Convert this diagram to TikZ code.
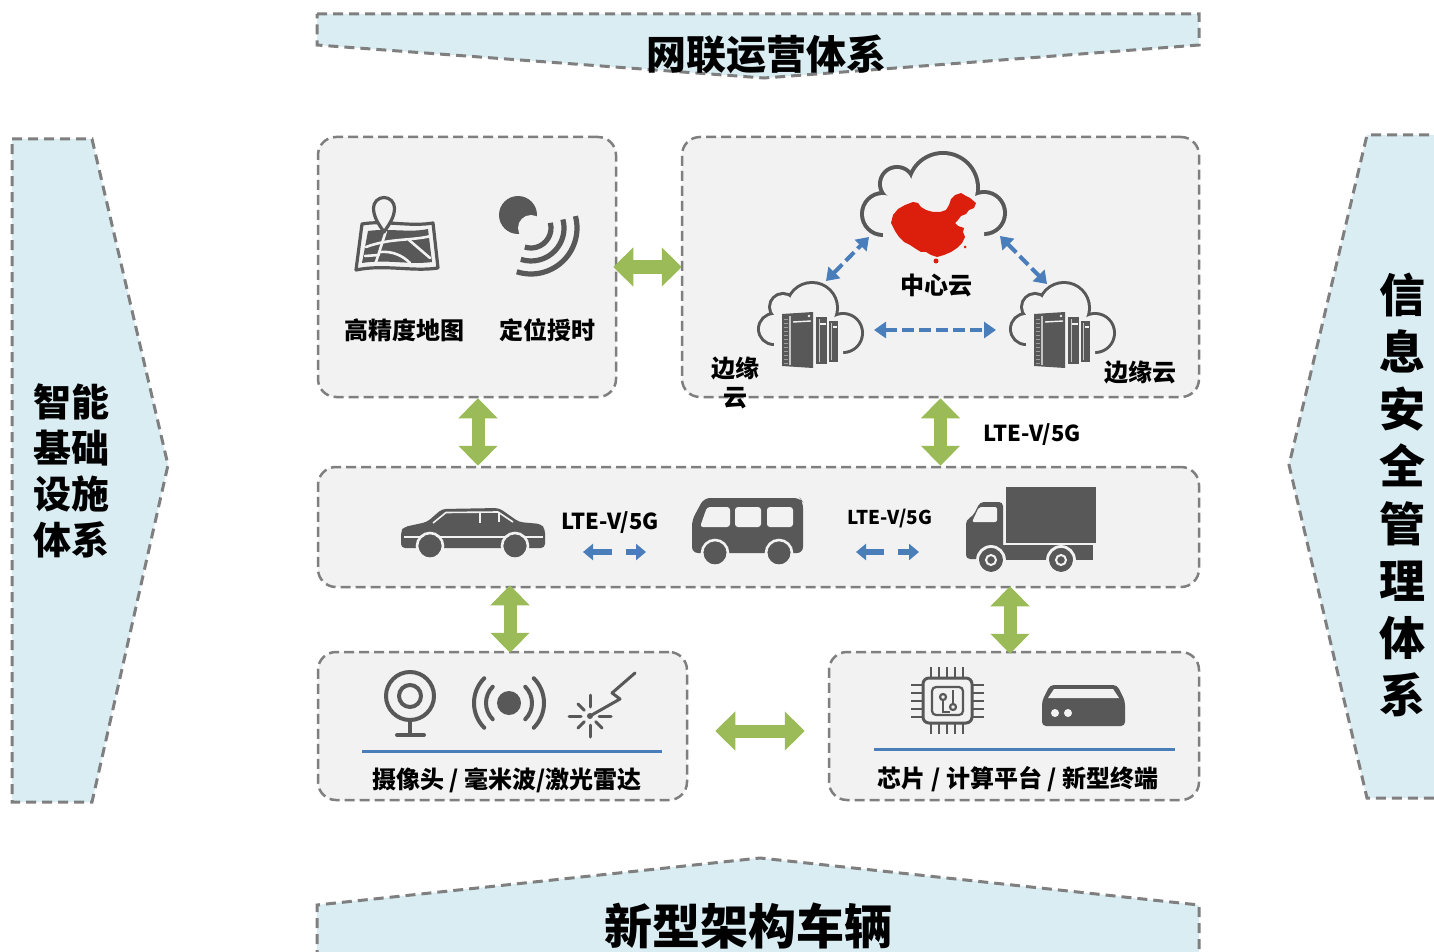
\documentclass[tikz,border=0pt]{standalone}
\usepackage{fontspec}
\setmainfont{Noto Sans CJK SC}
\usetikzlibrary{arrows.meta}

\definecolor{bannerfill}{HTML}{DAEDF3}
\definecolor{dashgray}{HTML}{7F7F7F}
\definecolor{boxfill}{HTML}{F2F2F2}
\definecolor{iconcol}{HTML}{585858}
\definecolor{linkgreen}{HTML}{9BBB59}
\definecolor{linkblue}{HTML}{4A7EBB}
\definecolor{mapred}{HTML}{DC1E0C}

\tikzset{
  % small cloud with a rack of servers, centred on the pic origin
  edgecloud/.pic={
    \foreach \cx/\cy/\r in {-36/4/14,-27/-18/12,2/-17/24,33/8/18}
      \draw[iconcol,line width=3pt] (\cx,\cy) circle[radius=\r];
    \foreach \cx/\cy/\r in {-36/4/14,-27/-18/12,2/-17/24,33/8/18}
      \fill[boxfill] (\cx,\cy) circle[radius=\r];
    \fill[boxfill] (-36,4) -- (-27,-18) -- (2,-17) -- (33,8) -- (33,58) -- (-36,58) -- cycle;
    % towers
    \fill[iconcol] (-28,-11) -- (3,-13) -- (3,43) -- (-28,41) -- cycle;
    \draw[boxfill!70!iconcol,line width=0.6pt] (-20,-9) -- (-20,40);
    \foreach \yy in {-6,-2,...,38} \draw[boxfill!45!iconcol,line width=0.3pt] (-26,\yy) -- (-22,\yy);
    \draw[boxfill,line width=0.7pt] (-17,-3) -- (1,-4);
    \fill[boxfill] (-1,-9) circle[radius=1.4];
    \fill[iconcol] (6,-8) rectangle (17,39);
    \draw[boxfill!70!iconcol,line width=0.5pt] (9,-6) -- (9,37);
    \draw[boxfill,line width=0.6pt] (10,-1) -- (16,-1);
    \fill[iconcol] (19,-4) rectangle (28,37);
    \draw[boxfill!70!iconcol,line width=0.5pt] (21.5,-2) -- (21.5,35);
    \draw[boxfill,line width=0.6pt] (22.5,2) -- (27,2);
  }
}

\begin{document}
\begin{tikzpicture}[x=0.5pt,y=-0.5pt,
  banner/.style={fill=bannerfill,draw=dashgray,line width=1.5pt,dash pattern=on 5pt off 3pt},
  bannerline/.style={draw=dashgray,line width=1.5pt,dash pattern=on 5pt off 3pt},
  panel/.style={draw=dashgray,fill=boxfill,line width=1.25pt,dash pattern=on 5pt off 2.5pt,
    rounded corners=9pt,inner sep=0pt},
  greenlink/.style={draw=linkgreen,line width=6.5pt,
    {Triangle[length=10pt,width=19pt]}-{Triangle[length=10pt,width=19pt]}},
  bluelink/.style={draw=linkblue,line width=2pt,dash pattern=on 6pt off 2.5pt,
    {Triangle[length=6pt,width=8pt]}-{Triangle[length=6pt,width=8pt]}},
  bluetip/.style={draw=linkblue,line width=3pt,-{Triangle[length=5pt,width=8pt]}},
  iconline/.style={draw=iconcol,line width=2pt,line cap=round,line join=round},
  label/.style={inner sep=0pt,font=\bfseries\fontsize{12pt}{14.5pt}\selectfont},
]
% canvas
\fill[white] (0,0) rectangle (1434,952);
\path[use as bounding box] (0,0) rectangle (1434,952);

% ---------- surrounding banners ----------
\path[banner] (317,14) -- (1199,14) -- (1199,45) -- (764,78) -- (317,45) -- cycle;
\path[banner] (12,139) -- (92,139) -- (168,465) -- (92,802) -- (12,802) -- cycle;
\fill[bannerfill] (1445,135) -- (1367,135) -- (1289,465) -- (1367,798) -- (1445,798) -- cycle;
\path[bannerline] (1445,135) -- (1367,135) -- (1289,465) -- (1367,798) -- (1445,798);
\fill[bannerfill] (317,960) -- (317,905) -- (760,858) -- (1199,905) -- (1199,960) -- cycle;
\path[bannerline] (317,960) -- (317,905) -- (760,858) -- (1199,905) -- (1199,960);

\node[inner sep=0pt,font=\bfseries\fontsize{20pt}{24pt}\selectfont] (t-top) at (766,54) {网联运营体系};
\node[inner sep=0pt,font=\bfseries\fontsize{24pt}{28pt}\selectfont] (t-bottom) at (748,926) {新型架构车辆};
\node[inner sep=0pt,align=center,font=\bfseries\fontsize{19pt}{23pt}\selectfont] (t-left) at (71,471)
  {智能\\基础\\设施\\体系};
\node[inner sep=0pt,align=center,font=\bfseries\fontsize{23pt}{28.6pt}\selectfont] (t-right) at (1402,495)
  {信\\息\\安\\全\\管\\理\\体\\系};

% ---------- panels ----------
\node[panel,minimum width=149pt,minimum height=130pt] (tl) at (467,267) {};
\node[panel,minimum width=258.5pt,minimum height=130pt] (tr) at (940.5,267) {};
\node[panel,minimum width=440.5pt,minimum height=60pt] (mid) at (758.5,527) {};
\node[panel,minimum width=184.5pt,minimum height=74pt] (bl) at (502.5,726) {};
\node[panel,minimum width=185pt,minimum height=74pt] (br) at (1014,726) {};

% ---------- green links between panels ----------
\draw[greenlink,shorten <=-2pt,shorten >=-0.5pt] (tl.east) -- (tr.west);
\draw[greenlink] ([xshift=5.5pt]tl.south) -- ([xshift=5.5pt]tl.south |- mid.north);
\draw[greenlink] (tr.south) -- (tr.south |- mid.north);
\draw[greenlink,shorten <=-1.5pt,shorten >=-1pt] ([xshift=3.75pt]mid.south -| bl.north) -- ([xshift=3.75pt]bl.north);
\draw[greenlink,shorten <=-1pt,shorten >=-1.5pt] ([xshift=-2pt]mid.south -| br.north) -- ([xshift=-2pt]br.north);
\draw[greenlink,shorten <=13.5pt,shorten >=11.5pt] ([yshift=-2.5pt]bl.east) -- ([yshift=-2.5pt]bl.east -| br.west);

% ---------- map icon ----------
\draw[iconline,line width=1.6pt] (362,224) .. controls (385,220) and (410,227) .. (433,223)
  -- (438,268) .. controls (412,272) and (385,264) .. (356,270) -- cycle;
\fill[iconcol] (368,231) .. controls (390,228) and (410,233) .. (428,229)
  -- (432,262) .. controls (410,265) and (385,259) .. (362,263) -- cycle;
\draw[boxfill,line width=1.3pt,line cap=round] (366,247) .. controls (390,238) and (410,241) .. (431,236);
\draw[boxfill,line width=1.3pt,line cap=round] (386,231) -- (376,262);
\draw[boxfill,line width=1.3pt,line cap=round] (380,252) .. controls (392,251) and (402,255) .. (410,263);
\draw[boxfill,line width=1.3pt,line cap=round] (409,240) -- (430,258);
\draw[boxfill,line width=1.3pt,line cap=round] (365,256) -- (379,255);
\draw[iconcol,line width=1.6pt,fill=boxfill,line join=round] (384,232) .. controls (378.5,224) and (373.5,217) .. (373.5,208)
  arc[start angle=180,end angle=360,radius=10.5] .. controls (394.5,217) and (389.5,224) .. (384,232) -- cycle;

% ---------- positioning icon ----------
\fill[iconcol] (518,215) circle[radius=19];
\fill[boxfill] (531,228) circle[radius=13];
\foreach \r in {20,33,46}
  \draw[iconcol,line width=2.6pt] (531,228) ++(-15:\r) arc[start angle=-15,end angle=108,radius=\r];

\node[label] (lbl-map) at (404,330) {高精度地图};
\node[label] (lbl-time) at (547,330) {定位授时};

% ---------- central cloud ----------
\foreach \cx/\cy/\r in {883/214/19,897/184/15,943/188/33,984/213/19}
  \draw[iconcol,line width=4pt] (\cx,\cy) circle[radius=\r];
\foreach \cx/\cy/\r in {883/214/19,897/184/15,943/188/33,984/213/19}
  \fill[boxfill] (\cx,\cy) circle[radius=\r];
\fill[boxfill] (883,214) -- (897,184) -- (943,188) -- (984,213) -- (984,252) -- (883,252) -- cycle;
% map outline of China
\fill[mapred] (893,215) -- (898,209) -- (905,205) -- (913,202) -- (918,203) -- (921,207) -- (926,210)
  -- (933,212) -- (940,212) -- (946,210) -- (949,205) -- (951,199) -- (955,195) -- (961,193)
  -- (966,196) -- (970,198) -- (976,203) -- (974,208) -- (969,210) -- (966,214) -- (961,216)
  -- (958,220) -- (955,223) -- (958,226) -- (964,228) -- (963,232) -- (965,237) -- (962,243)
  -- (957,248) -- (951,252) -- (944,255) -- (937,257) -- (931,255) -- (926,252) -- (921,252)
  -- (916,249) -- (910,245) -- (904,242) -- (899,237) -- (895,231) -- (891,223) -- cycle;
\fill[mapred] (936,261) circle[radius=2.5];
\fill[mapred] (965,247) circle[radius=1.5];

\pic at (810,325) {edgecloud};
\pic at (1062,325) {edgecloud};

\coordinate (ca) at (826,281); \coordinate (cb) at (869,237);
\coordinate (cc) at (1000,236); \coordinate (cd) at (1047,284);
\coordinate (ce) at (874,330); \coordinate (cf) at (996,330);
\draw[bluelink] (ca) -- (cb);
\draw[bluelink] (cc) -- (cd);
\draw[bluelink] (ce) -- (cf);

\node[label] (lbl-center) at (936,285) {中心云};
\node[label,align=center] (lbl-edge1) at (735,383) {边缘\\云};
\node[label] (lbl-edge2) at (1140,372) {边缘云};
\node[inner sep=0pt,font=\bfseries\fontsize{11pt}{13pt}\selectfont] (lte-1) at (1032,435) {LTE-V/5G};

% ---------- vehicles ----------
% car
\fill[iconcol,rounded corners=2pt] (401,548) -- (401,531) -- (404,527) -- (427,522) -- (442,509)
  -- (499,508) -- (519,522) -- (541,524) -- (545,529) -- (545,548) -- cycle;
\draw[boxfill,line width=0.8pt,line join=round] (433,523) -- (446,512.5) -- (498,512) -- (513,522);
\draw[boxfill,line width=0.8pt] (480,513) -- (480,523) (499,513) -- (499,522);
\draw[boxfill,line width=1pt] (404,537) -- (543,537);
\foreach \wx in {430,515} {
  \fill[iconcol] (\wx,546) circle[radius=11.5];
  \draw[boxfill,line width=1.3pt] (\wx,546) circle[radius=13];
}
% bus
\fill[iconcol,rounded corners=3pt] (704,498) -- (800,498) -- (803,502) -- (803,553) -- (692,553) -- (692,520) -- cycle;
\fill[boxfill,rounded corners=1.5pt] (707,507) -- (730,507) -- (730,527) -- (700,527) -- cycle;
\fill[boxfill,rounded corners=1.5pt] (735,507) rectangle (761,527);
\fill[boxfill,rounded corners=1.5pt] (767,507) rectangle (793,527);
\foreach \wx in {715,779} {
  \fill[iconcol] (\wx,553) circle[radius=11.5];
  \draw[boxfill,line width=1.3pt] (\wx,553) circle[radius=13];
}
% truck
\fill[iconcol] (1006,487) rectangle (1096,543);
\fill[iconcol,rounded corners=2pt] (1003,502) -- (980,502) -- (973,516) -- (966,520) -- (966,559) -- (1003,559) -- cycle;
\fill[boxfill,rounded corners=1pt] (979,507) -- (997,507) -- (997,522) -- (972,522) -- cycle;
\fill[iconcol] (1003,545) rectangle (1093,560);
\foreach \wx in {991,1061} {
  \fill[iconcol] (\wx,560) circle[radius=12];
  \draw[boxfill,line width=1.4pt] (\wx,560) circle[radius=13.5];
  \draw[boxfill,line width=1pt] (\wx,560) circle[radius=5];
}

\node[inner sep=0pt,font=\bfseries\fontsize{11pt}{13pt}\selectfont] (lte-2) at (610,523) {LTE-V/5G};
\node[inner sep=0pt,font=\bfseries\fontsize{9.5pt}{11pt}\selectfont] (lte-3) at (890,519) {LTE-V/5G};
\coordinate (m1) at (612,552); \coordinate (m2) at (583,552);
\coordinate (m3) at (626,552); \coordinate (m4) at (646,552);
\coordinate (m5) at (884,552); \coordinate (m6) at (856,552);
\coordinate (m7) at (898,552); \coordinate (m8) at (919,552);
\draw[bluetip] (m1) -- (m2);
\draw[bluetip] (m3) -- (m4);
\draw[bluetip] (m5) -- (m6);
\draw[bluetip] (m7) -- (m8);

% ---------- sensors ----------
\draw[iconline] (410,696) circle[radius=24];
\draw[iconline] (410,696) circle[radius=11];
\draw[iconline] (410,720) -- (410,734);
\draw[iconline] (397,735) -- (424,735);
\fill[iconcol] (509,703) circle[radius=12];
\foreach \r in {23,35} {
  \draw[iconline] (509,703) ++(135:\r) arc[start angle=135,end angle=225,radius=\r];
  \draw[iconline] (509,703) ++(-45:\r) arc[start angle=-45,end angle=45,radius=\r];
}
\fill[iconcol] (590,716) circle[radius=3];
\foreach \a/\ri/\ro in {0/9/21,45/8/17,90/9/21,135/8/17,180/9/21,225/8/17,270/9/21}
  \draw[iconcol,line width=1.5pt,line cap=round] (590,716) ++(\a:\ri) -- ++(\a:\ro-\ri);
\draw[iconcol,line width=1.5pt,line cap=round,line join=round] (590,716) -- (620,699) -- (612,693) -- (635,673);
\draw[linkblue,line width=1.5pt] (362,751) -- (662,751);
\node[label] (lbl-sensor) at (507,780) {摄像头 / 毫米波/激光雷达};

% ---------- computing ----------
\draw[iconcol,line width=1.5pt,rounded corners=3pt] (923,678) rectangle (972,723);
\draw[iconcol,line width=1.1pt,rounded corners=2pt] (932,687) rectangle (963,715);
\foreach \p in {0,...,4} {
  \draw[iconcol,line width=1.2pt] (931+8*\p,667) -- (931+8*\p,678);
  \draw[iconcol,line width=1.2pt] (931+8*\p,723) -- (931+8*\p,734);
  \draw[iconcol,line width=1.2pt] (911,685+8*\p) -- (923,685+8*\p);
  \draw[iconcol,line width=1.2pt] (972,685+8*\p) -- (984,685+8*\p);
}
\draw[iconcol,line width=1.1pt] (943,697) circle[radius=3];
\draw[iconcol,line width=1.1pt] (943,700) -- (943,712) -- (950,712);
\draw[iconcol,line width=1.1pt] (953,707) circle[radius=3];
\draw[iconcol,line width=1.1pt] (953,704) -- (953,690);
\fill[iconcol,rounded corners=2pt] (1050,685) -- (1117,685) -- (1125,701) -- (1125,726) -- (1042,726) -- (1042,701) -- cycle;
\fill[boxfill] (1054,689) -- (1113,689) -- (1119,698) -- (1048,698) -- cycle;
\fill[boxfill] (1055,713) circle[radius=4];
\fill[boxfill] (1068,713) circle[radius=4];
\draw[linkblue,line width=1.5pt] (874,749) -- (1175,749);
\node[label] (lbl-compute) at (1018,779) {芯片 / 计算平台 / 新型终端};
\end{tikzpicture}
\end{document}
